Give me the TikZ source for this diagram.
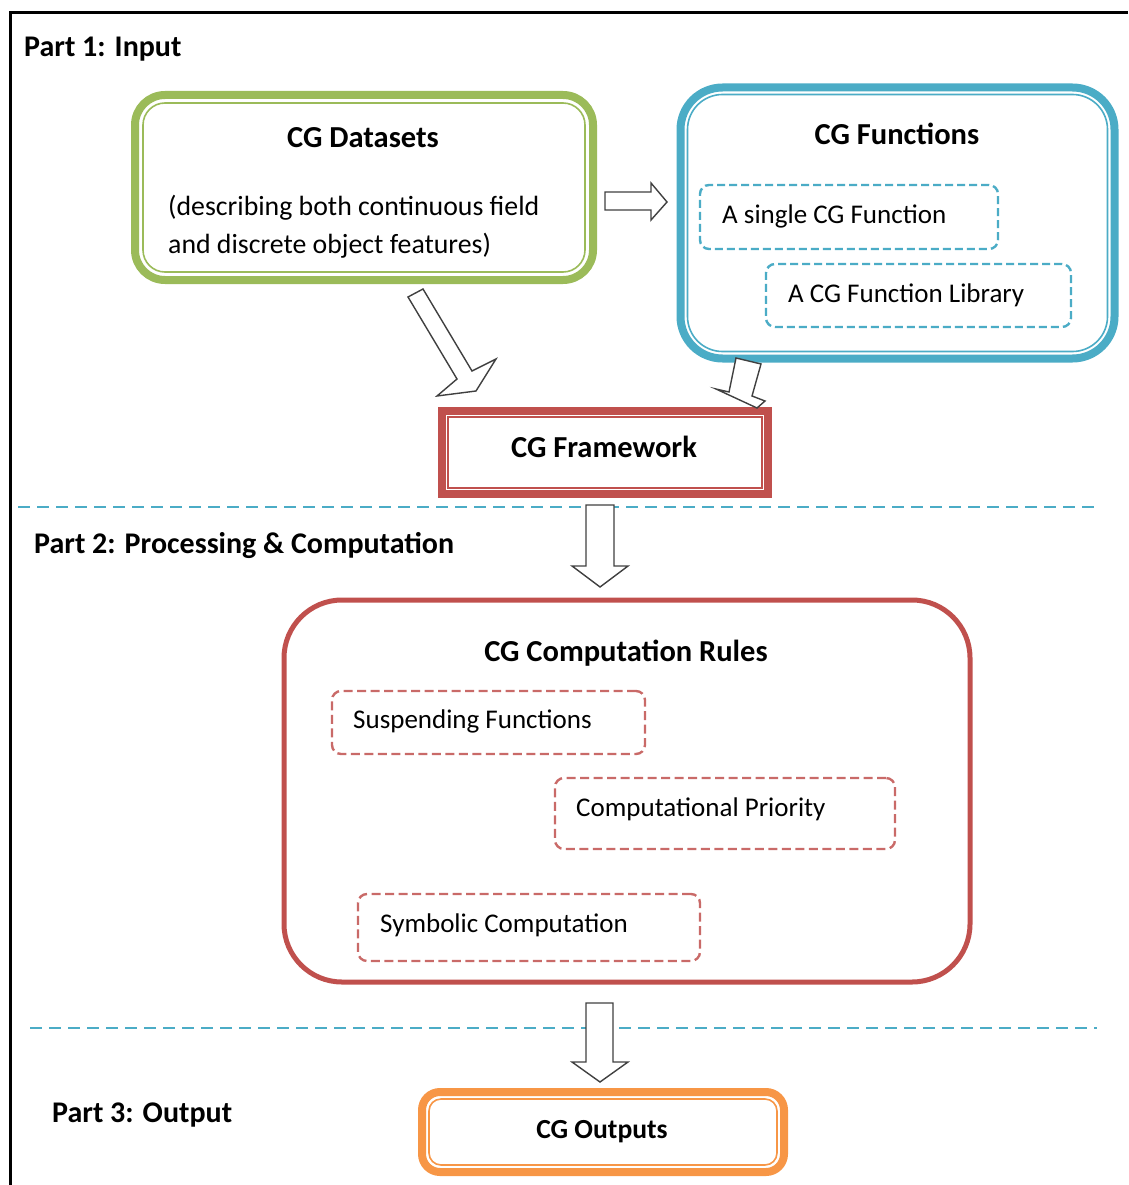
\documentclass[tikz,border=0pt]{standalone}
\usepackage{fontspec}
\setmainfont{Carlito}
\definecolor{cggreen}{HTML}{9BBB59}
\definecolor{cgblue}{HTML}{4BACC6}
\definecolor{cgred}{HTML}{C0504D}
\definecolor{cgorange}{HTML}{F79646}
\definecolor{arrowgray}{HTML}{404040}
\begin{document}
\begin{tikzpicture}[x=1pt,y=-1pt,
  bandbox/.style={draw, line width=8pt, inner sep=0pt, outer sep=0pt, fill=white},
  rulebox/.style={draw=cgred, line width=5pt, inner sep=0pt, rounded corners=58pt},
  innerline/.style={line width=1.6pt},
  dashbox/.style={draw, line width=2.4pt, rounded corners=9pt, inner sep=0pt, outer sep=0pt},
  bluedash/.style={dashbox, draw=cgblue, dash pattern=on 8pt off 4pt},
  reddash/.style={dashbox, draw=cgred!85, dash pattern=on 9pt off 4.5pt},
  separator/.style={draw=cgblue, line width=2.5pt, dash pattern=on 12pt off 7pt},
  hollowarrow/.style={draw=arrowgray, fill=white, line width=1.4pt, line join=miter},
  title/.style={anchor=base, inner sep=0pt, font=\bfseries\fontsize{30.5}{36}\selectfont},
  parttitle/.style={anchor=base west, inner sep=0pt, font=\bfseries\fontsize{30}{36}\selectfont},
  body/.style={anchor=base west, inner sep=0pt, font=\fontsize{27}{32}\selectfont}]
\useasboundingbox (0,0) rectangle (1128,1185);

% outer frame (left and top edges)
\draw[line width=2.5pt] (10.5,1185) -- (10.5,12.5) -- (1128,12.5);

% ---------- Part 1: Input ----------
\node[parttitle] (p1) at (24,57) {Part 1: Input};

% CG Datasets
\node[bandbox, draw=cggreen, rounded corners=30pt, minimum width=458pt, minimum height=185pt]
  (ds) at (364,187.5) {};
\draw[innerline, cggreen, rounded corners=22pt]
  ([shift={(8,8)}]ds.north west) rectangle ([shift={(-8,-8)}]ds.south east);
\node[title] (dstitle) at (363,148) {CG Datasets};
\node[body, font=\fontsize{27.8}{32}\selectfont] (dsl1) at (168,215) {(describing both continuous field};
\node[body, font=\fontsize{27.8}{32}\selectfont] (dsl2) at (168,253) {and discrete object features)};

% CG Functions
\node[bandbox, draw=cgblue, rounded corners=42pt, minimum width=434pt, minimum height=271pt]
  (fn) at (897.5,223) {};
\draw[innerline, cgblue, rounded corners=35pt]
  ([shift={(7,7)}]fn.north west) rectangle ([shift={(-7,-7)}]fn.south east);
\node[title] (fntitle) at (897,145) {CG Functions};
\node[bluedash, minimum width=298pt, minimum height=64pt] (single) at (849,217) {};
\node[body] (singletext) at (722,223) {A single CG Function};
\node[bluedash, minimum width=305pt, minimum height=63pt] (library) at (918.5,295.5) {};
\node[body] (librarytext) at (788,302) {A CG Function Library};

% CG Framework
\node[bandbox, draw=cgred, minimum width=326pt, minimum height=83pt] (fw) at (605,452.5) {};
\draw[innerline, cgred]
  ([shift={(6,6)}]fw.north west) rectangle ([shift={(-6,-6)}]fw.south east);
\node[title] (fwtitle) at (604,457) {CG Framework};

% block arrows of part 1
\coordinate (h0) at (605,192);
\draw[hollowarrow] (h0) -- ++(46,0) -- ++(0,-9) -- ++(16,19) -- ++(-16,18) -- ++(0,-10) -- ++(-46,0) -- cycle;
\coordinate (g0) at (408,297);
\draw[hollowarrow] (g0) -- (423,289) -- (472,371) -- (496,359) -- (476,391) -- (437,396) -- (457,379) -- cycle;
\coordinate (b0) at (736,358);
\draw[hollowarrow] (b0) -- (761,364) -- (752,396) -- (765,401) -- (757,408) -- (716,389) -- (729,392) -- cycle;

% ---------- Part 2 ----------
\draw[separator] (18,507) -- (1097,507);
\node[parttitle] (p2) at (34,553) {Part 2: Processing \& Computation};

\coordinate (d1) at (600,505);
\draw[hollowarrow] (d1) ++(-14,0) -- ++(28,0) -- ++(0,61) -- ++(14,0) -- ++(-28,21) -- ++(-28,-21) -- ++(14,0) -- cycle;

\node[rulebox, minimum width=686pt, minimum height=382pt] (rules) at (627,791) {};
\node[title] (rutitle) at (626,661) {CG Computation Rules};
\node[reddash, minimum width=313pt, minimum height=63pt] (susp) at (488.5,722.5) {};
\node[body] (susptext) at (353,728) {Suspending Functions};
\node[reddash, minimum width=340pt, minimum height=71pt] (prio) at (725,813.5) {};
\node[body] (priotext) at (576,816) {Computational Priority};
\node[reddash, minimum width=342pt, minimum height=67pt] (symb) at (529,927.5) {};
\node[body] (symbtext) at (380,932) {Symbolic Computation};

% ---------- Part 3 ----------
\draw[separator] (30,1028) -- (1097,1028);
\coordinate (d2) at (600,1003);
\draw[hollowarrow] (d2) ++(-14,0) -- ++(27,0) -- ++(0,59) -- ++(15,0) -- ++(-28,20) -- ++(-28,-20) -- ++(14,0) -- cycle;
\node[parttitle] (p3) at (52,1122) {Part 3: Output};

\node[bandbox, draw=cgorange, rounded corners=18pt, minimum width=362pt, minimum height=80pt]
  (out) at (603,1132) {};
\draw[innerline, cgorange, rounded corners=12pt]
  ([shift={(7,7)}]out.north west) rectangle ([shift={(-7,-7)}]out.south east);
\node[title, font=\bfseries\fontsize{27.6}{32}\selectfont] (outtitle) at (602,1138) {CG Outputs};
\end{tikzpicture}
\end{document}
